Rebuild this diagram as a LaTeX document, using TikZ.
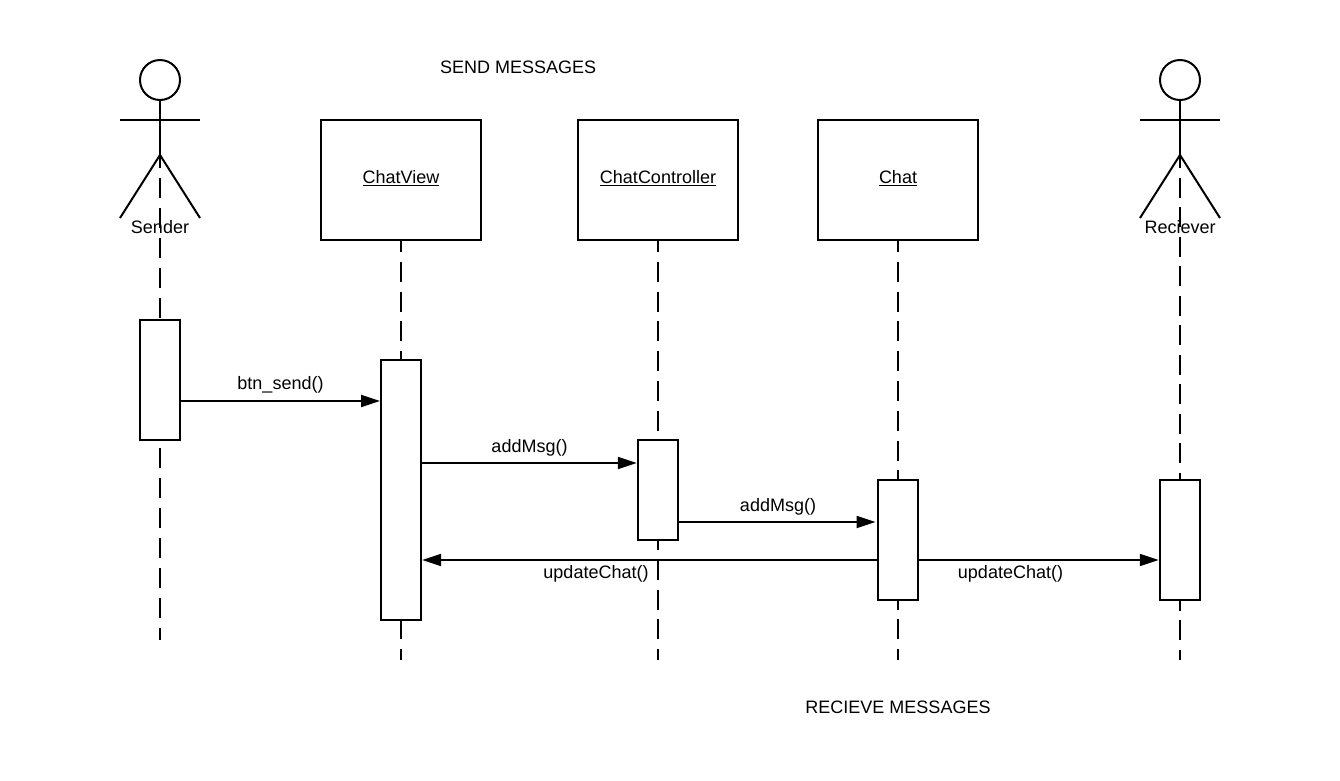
\documentclass[tikz,border=0pt]{standalone}
\usepackage{fontspec}
\setmainfont{Liberation Sans}
\usetikzlibrary{arrows.meta}
\tikzset{
  txt/.style={inner sep=0pt,outer sep=0pt,text=black,font=\fontsize{18}{22}\selectfont},
  obj/.style={draw=black,line width=2pt,fill=white,minimum width=160pt,minimum height=120pt,inner sep=0pt,outer sep=0pt,font=\fontsize{18}{22}\selectfont},
  act/.style={draw=black,line width=2pt,fill=white,minimum width=40pt,inner sep=0pt,outer sep=0pt},
  life/.style={line width=2pt,draw=black,dash pattern=on 20pt off 9.8pt},
  msg/.style={line width=2pt,draw=black,-{Triangle[length=19pt,width=12pt]},shorten >=1.2pt},
  limb/.style={line width=2pt,draw=black},
  headc/.style={circle,draw=black,line width=2pt,minimum size=40pt,inner sep=0pt,outer sep=0pt}
}
\newcommand{\ul}[1]{\raisebox{-6.3pt}{\smash{\underline{#1}}}}
\begin{document}
\begin{tikzpicture}[x=1pt,y=-1pt]
\useasboundingbox[fill=white] (0,0) rectangle (1340,780);
% free ends of the lifelines
\coordinate (sTop) at (160,148);
\coordinate (sEnd) at (160,640);
\coordinate (vTop) at (401,231.9);
\coordinate (vEnd) at (401,660);
\coordinate (cTop) at (658,231.9);
\coordinate (cEnd) at (658,660);
\coordinate (hTop) at (898,231.9);
\coordinate (hEnd) at (898,660);
\coordinate (rTop) at (1180,148);
\coordinate (rEnd) at (1180,660);
% lifelines
\draw[life,dash pattern=on 20pt off 10pt] (sTop) -- (sEnd);
\draw[life] (vTop) -- (vEnd);
\draw[life] (cTop) -- (cEnd);
\draw[life] (hTop) -- (hEnd);
\draw[life,dash pattern=on 20pt off 9.5pt] (rTop) -- (rEnd);
% objects
\node[obj] (view) at (401,180) {\ul{ChatView}};
\node[obj] (ctrl) at (658,180) {\ul{ChatController}};
\node[obj] (chat) at (898,180) {\ul{Chat}};
% activations
\node[act,minimum height=120pt] (sa) at (160,380) {};
\node[act,minimum height=260pt] (va) at (401,490) {};
\node[act,minimum height=100pt] (ca) at (658,490) {};
\node[act,minimum height=120pt] (ha) at (898,540) {};
\node[act,minimum height=120pt] (ra) at (1180,540) {};
% actors
\node[headc] (shead) at (160,80) {};
\coordinate (shand1) at (120,119.5);
\coordinate (shand2) at (200,119.5);
\coordinate (ship) at (160,155);
\coordinate (sfoot1) at (120,218);
\coordinate (sfoot2) at (200,218);
\draw[limb] (shead.south) -- (ship);
\draw[limb] (shand1) -- (shand2);
\draw[limb] (sfoot1) -- (ship) -- (sfoot2);
\node[txt] (sname) at (160,227) {Sender};
\node[headc] (rhead) at (1180,80) {};
\coordinate (rhand1) at (1140,119.5);
\coordinate (rhand2) at (1220,119.5);
\coordinate (rhip) at (1180,155);
\coordinate (rfoot1) at (1140,218);
\coordinate (rfoot2) at (1220,218);
\draw[limb] (rhead.south) -- (rhip);
\draw[limb] (rhand1) -- (rhand2);
\draw[limb] (rfoot1) -- (rhip) -- (rfoot2);
\node[txt] (rname) at (1180,227) {Reciever};
% message levels
\coordinate (y1) at (0,401);
\coordinate (y2) at (0,463);
\coordinate (y3) at (0,522);
\coordinate (y4) at (0,560);
\draw[msg,shorten >=1pt] (sa.east |- y1) -- (va.west |- y1);
\draw[msg] (va.east |- y2) -- (ca.west |- y2);
\draw[msg,shorten >=2.5pt] (ca.east |- y3) -- (ha.west |- y3);
\draw[msg] (ha.west |- y4) -- (va.east |- y4);
\draw[msg] (ha.east |- y4) -- (ra.west |- y4);
% labels
\node[txt] (l1) at (280.5,385) {btn\_send()};
\node[txt] (l2) at (529.5,448) {addMsg()};
\node[txt] (l3) at (778,507) {addMsg()};
\node[txt] (l4) at (596,574) {updateChat()};
\node[txt] (l5) at (1010.5,574) {updateChat()};
\node[txt] (t1) at (518.2,67.5) {SEND MESSAGES};
\node[txt] (t2) at (898,707.5) {RECIEVE MESSAGES};
\end{tikzpicture}
\end{document}
